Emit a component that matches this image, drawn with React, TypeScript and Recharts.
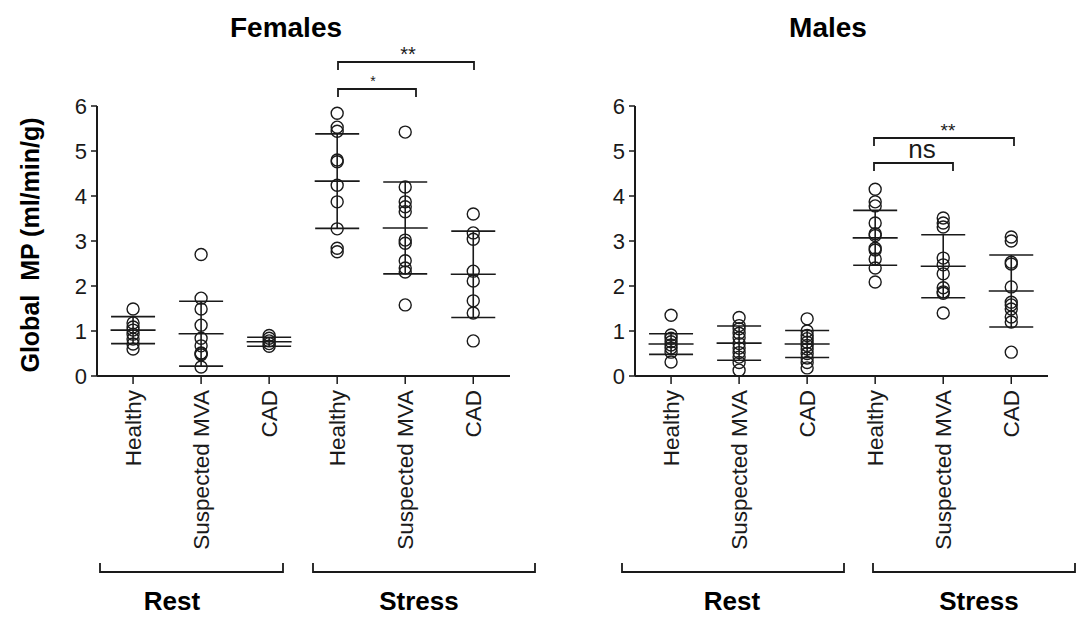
import React from 'react';
import { ComposedChart, Scatter, XAxis, YAxis, ErrorBar } from 'recharts';

const groups = ['Healthy', 'Suspected MVA', 'CAD', 'Healthy', 'Suspected MVA', 'CAD'];
const yTicks = [0, 1, 2, 3, 4, 5, 6];

// Females, one list per group (rest: healthy, MVA, CAD; stress: healthy, MVA, CAD)
const femaleValues = [
  [1.49, 1.18, 1.09, 1.02, 0.93, 0.82, 0.71, 0.6],
  [2.7, 1.73, 1.49, 1.13, 0.84, 0.67, 0.51, 0.47, 0.5, 0.2],
  [0.9, 0.84, 0.78, 0.72, 0.66],
  [5.84, 5.53, 5.44, 4.8, 4.76, 4.24, 3.87, 3.27, 2.84, 2.76],
  [5.42, 4.2, 3.87, 3.76, 3.65, 3.02, 2.95, 2.56, 2.4, 2.31, 1.58],
  [3.6, 3.18, 3.04, 2.33, 2.11, 1.67, 1.4, 0.78],
];
const femaleMeans = [1.02, 0.94, 0.76, 4.33, 3.29, 2.26];
const femaleSd = [0.3, 0.72, 0.1, 1.05, 1.02, 0.96];

const maleValues = [
  [1.35, 0.91, 0.84, 0.76, 0.69, 0.62, 0.53, 0.31],
  [1.3, 1.12, 1.05, 0.95, 0.85, 0.72, 0.62, 0.52, 0.42, 0.3, 0.13],
  [1.27, 1.0, 0.9, 0.83, 0.75, 0.68, 0.6, 0.5, 0.4, 0.3, 0.18],
  [4.15, 3.87, 3.78, 3.4, 3.16, 3.12, 2.84, 2.8, 2.6, 2.4, 2.09],
  [3.51, 3.4, 3.31, 2.62, 2.47, 2.27, 1.96, 1.87, 1.84, 1.4],
  [3.09, 3.0, 2.53, 2.49, 1.98, 1.64, 1.58, 1.49, 1.31, 1.2, 0.53],
];
const maleMeans = [0.71, 0.73, 0.71, 3.07, 2.44, 1.89];
const maleSd = [0.23, 0.38, 0.3, 0.61, 0.7, 0.8];

const FONT = '"Liberation Sans", Arial, Helvetica, sans-serif';
const INK = '#1a1a1a';

const toPoints = (vals: number[][]) => vals.flatMap((g, i) => g.map((v) => ({ x: i, y: v })));
const toMeans = (m: number[], sd: number[]) => m.map((v, i) => ({ x: i, y: v, sd: sd[i] }));

const XTick = (props: any) => {
  const { x, y, payload } = props;
  return (
    <g transform={`translate(${x},${y})`}>
      <text transform="rotate(-90)" x={-4} y={8} textAnchor="end" fontSize={22.5} fill={INK} fontFamily={FONT}>
        {groups[payload.value]}
      </text>
    </g>
  );
};

const Circle = (p: any) => (
  <circle cx={p.cx} cy={p.cy} r={6} fill="none" stroke={INK} strokeWidth={1.4} />
);

const MeanLine = (p: any) => (
  <line x1={p.cx - 22.5} x2={p.cx + 22.5} y1={p.cy} y2={p.cy} stroke={INK} strokeWidth={1.6} />
);

const Panel = ({ width, axisWidth, right, values, means, sd }: any) => (
  <ComposedChart width={width} height={617} margin={{ top: 106, right, bottom: 0, left: 0 }}>
    <XAxis
      type="number"
      dataKey="x"
      domain={[-0.53, 5.54]}
      ticks={[0, 1, 2, 3, 4, 5]}
      height={241}
      tick={<XTick />}
      tickSize={8}
      tickMargin={2}
      axisLine={{ stroke: INK, strokeWidth: 2 }}
      tickLine={{ stroke: INK, strokeWidth: 1.5 }}
    />
    <YAxis
      type="number"
      dataKey="y"
      domain={[0, 6]}
      ticks={yTicks}
      width={axisWidth}
      tickSize={6}
      tickMargin={4}
      tick={{ fontSize: 22, fill: INK, fontFamily: FONT }}
      axisLine={{ stroke: INK, strokeWidth: 2 }}
      tickLine={{ stroke: INK, strokeWidth: 1.5 }}
    />
    <Scatter data={toPoints(values)} shape={<Circle />} isAnimationActive={false} />
    <Scatter data={toMeans(means, sd)} shape={<MeanLine />} isAnimationActive={false}>
      <ErrorBar dataKey="sd" direction="y" width={22} stroke={INK} strokeWidth={1.6} />
    </Scatter>
  </ComposedChart>
);

const Bracket = ({ x1, x2, y, up }: any) => (
  <path d={`M${x1},${y + up}V${y}H${x2}V${y + up}`} fill="none" stroke={INK} strokeWidth={1.8} />
);

export default function App() {
  return (
    <div style={{ position: 'absolute', left: 0, top: 0, width: 1087, height: 617, background: '#fff', fontFamily: FONT }}>
      <div style={{ position: 'absolute', left: 0, top: 0 }}>
        <Panel width={540} axisWidth={97} right={30} values={femaleValues} means={femaleMeans} sd={femaleSd} />
      </div>
      <div style={{ position: 'absolute', left: 540, top: 0 }}>
        <Panel width={547} axisWidth={95} right={39} values={maleValues} means={maleMeans} sd={maleSd} />
      </div>
      <svg width={1087} height={617} style={{ position: 'absolute', left: 0, top: 0, pointerEvents: 'none' }} fontFamily={FONT}>
        <text x={286} y={37} textAnchor="middle" fontSize={28} fontWeight="bold" fill="#000">Females</text>
        <text x={828} y={37} textAnchor="middle" fontSize={28} fontWeight="bold" fill="#000">Males</text>
        <text transform="translate(39,245) rotate(-90)" textAnchor="middle" fontSize={25} fontWeight="bold" fill="#000" xmlSpace="preserve">
          {'Global  MP (ml/min/g)'}
        </text>

        <Bracket x1={338} x2={474} y={62} up={8} />
        <text x={408} y={61} textAnchor="middle" fontSize={20} fill={INK}>**</text>
        <Bracket x1={338} x2={416} y={89} up={8} />
        <text x={373} y={86} textAnchor="middle" fontSize={14} fill={INK}>*</text>

        <Bracket x1={874} x2={1014} y={138} up={8} />
        <text x={948} y={137} textAnchor="middle" fontSize={19} fill={INK}>**</text>
        <Bracket x1={874} x2={953} y={163} up={8} />
        <text x={922} y={158} textAnchor="middle" fontSize={26} fill={INK}>ns</text>

        <Bracket x1={100} x2={283} y={572} up={-9} />
        <Bracket x1={313} x2={535} y={572} up={-9} />
        <Bracket x1={622} x2={844} y={572} up={-9} />
        <Bracket x1={873} x2={1075} y={572} up={-9} />
        <text x={172} y={610} textAnchor="middle" fontSize={26} fontWeight="bold" fill="#000">Rest</text>
        <text x={419} y={610} textAnchor="middle" fontSize={26} fontWeight="bold" fill="#000">Stress</text>
        <text x={732} y={610} textAnchor="middle" fontSize={26} fontWeight="bold" fill="#000">Rest</text>
        <text x={979} y={610} textAnchor="middle" fontSize={26} fontWeight="bold" fill="#000">Stress</text>
      </svg>
    </div>
  );
}
